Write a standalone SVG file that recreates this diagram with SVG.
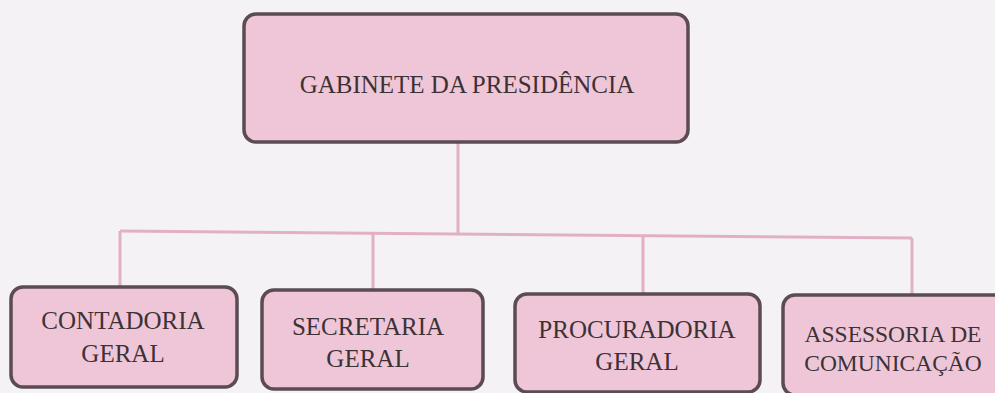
<svg xmlns="http://www.w3.org/2000/svg" width="995" height="393" viewBox="0 0 995 393">
<style>
.box{fill:#efc6d7;stroke:#5b4b52;stroke-width:3.5}
.lbl{font-family:"Liberation Serif","Times New Roman",serif;font-size:25px;fill:#3c3236;text-anchor:middle}
.con{stroke:#e2b0c6;stroke-width:3;fill:none}
</style>
<rect width="995" height="393" fill="#f4f2f4"/>
<g id="connectors">
<path class="con" d="M458 142 V233"/>
<path class="con" d="M120 231 L912 238"/>
<path class="con" d="M120 231 V287"/>
<path class="con" d="M373 233 V290"/>
<path class="con" d="M643 236 V294"/>
<path class="con" d="M912 238 V295"/>
</g>
<g id="n0">
<rect class="box" x="244" y="14" width="444" height="128" rx="12"/>
<text class="lbl" x="467" y="93">GABINETE DA PRESIDÊNCIA</text>
</g>
<g id="n1">
<rect class="box" x="11" y="287" width="226" height="100" rx="12"/>
<text class="lbl" x="123" y="329">CONTADORIA</text>
<text class="lbl" x="123" y="362">GERAL</text>
</g>
<g id="n2">
<rect class="box" x="262" y="290" width="221" height="99" rx="12"/>
<text class="lbl" x="368" y="335">SECRETARIA</text>
<text class="lbl" x="368" y="367">GERAL</text>
</g>
<g id="n3">
<rect class="box" x="515" y="294" width="245" height="98" rx="12"/>
<text class="lbl" x="637" y="338">PROCURADORIA</text>
<text class="lbl" x="637" y="370">GERAL</text>
</g>
<g id="n4">
<rect class="box" x="783" y="295" width="230" height="100" rx="12"/>
<text class="lbl" x="893" y="342" style="font-size:23.5px">ASSESSORIA DE</text>
<text class="lbl" x="893" y="371" style="font-size:23.5px">COMUNICAÇÃO</text>
</g>
</svg>
